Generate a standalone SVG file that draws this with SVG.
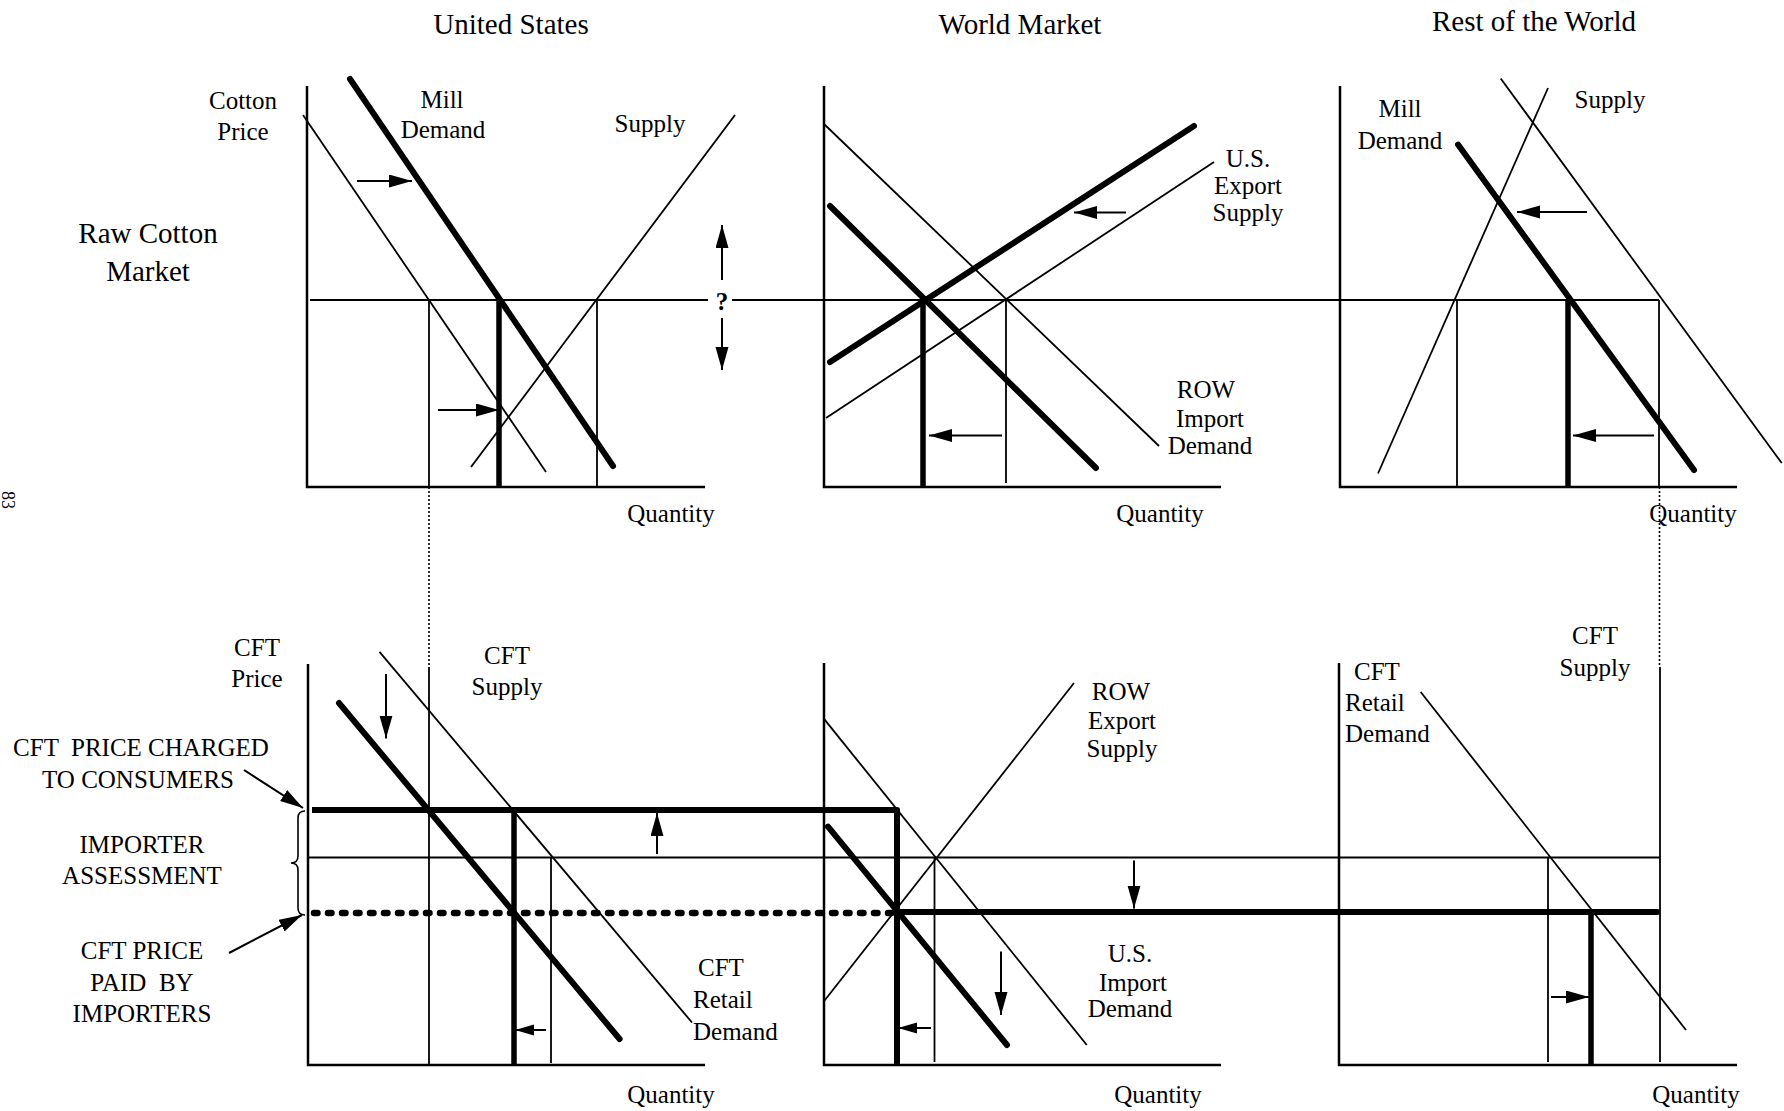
<svg xmlns="http://www.w3.org/2000/svg" width="1784" height="1111" viewBox="0 0 1784 1111">
<defs>
<style>
text{font-family:"Liberation Serif","Times New Roman",serif;fill:#000}
.t{font-size:29px;text-anchor:middle}
.l{font-size:25px;text-anchor:middle}
.s{font-size:25px;text-anchor:start}
.ax{stroke:#000;stroke-width:2.5;fill:none}
.th{stroke:#000;stroke-width:1.8;fill:none}
.tk{stroke:#000;stroke-width:6;fill:none;stroke-linecap:round}
.tv{stroke:#000;stroke-width:5.5;fill:none}
.dt{stroke:#000;stroke-width:1.6;fill:none;stroke-dasharray:2 2}
.ar{stroke:#000;stroke-width:2;fill:none;marker-end:url(#ah)}
.ar2{stroke:#000;stroke-width:2;fill:none;marker-end:url(#ah2)}
</style>
<marker id="ah" markerUnits="userSpaceOnUse" markerWidth="24" markerHeight="14" refX="23" refY="6.5" orient="auto"><path d="M0,0 L23,6.5 L0,13 z" fill="#000"/></marker>
<marker id="ah2" markerUnits="userSpaceOnUse" markerWidth="20" markerHeight="12" refX="19" refY="5.5" orient="auto"><path d="M0,0 L19,5.5 L0,11 z" fill="#000"/></marker>
</defs>
<rect width="1784" height="1111" fill="#fff"/>

<g id="page-number"><text transform="translate(2,491) rotate(90)" style="font-size:18px">83</text></g>

<g id="titles">
<text class="t" x="511" y="34">United States</text>
<text class="t" x="1020" y="34">World Market</text>
<text class="t" x="1534" y="31">Rest of the World</text>
<text class="t" x="148" y="243">Raw Cotton</text>
<text class="t" x="148" y="281">Market</text>
</g>

<g id="us-raw">
<path class="ax" d="M307,86 V487 H705"/>
<line class="th" x1="303" y1="115" x2="546" y2="472"/>
<line class="tk" x1="350" y1="79" x2="613" y2="466"/>
<line class="th" x1="471" y1="467" x2="735" y2="115"/>
<line class="th" x1="429" y1="300" x2="429" y2="487"/>
<line class="tv" x1="499" y1="300" x2="499" y2="487"/>
<line class="th" x1="597" y1="300" x2="597" y2="487"/>
<line class="ar" x1="357" y1="181" x2="412" y2="181"/>
<line class="ar" x1="438" y1="410" x2="499" y2="410"/>
<text class="l" x="243" y="109">Cotton</text>
<text class="l" x="243" y="140">Price</text>
<text class="l" x="442" y="108">Mill</text>
<text class="l" x="443" y="138">Demand</text>
<text class="l" x="650" y="132">Supply</text>
<text class="l" x="671" y="522">Quantity</text>
</g>

<g id="world-raw">
<path class="ax" d="M824,86 V487 H1221"/>
<line class="th" x1="824" y1="124" x2="1159" y2="446"/>
<line class="tk" x1="830" y1="206" x2="1096" y2="468"/>
<line class="tk" x1="830" y1="362" x2="1194" y2="126"/>
<line class="th" x1="826" y1="418" x2="1214" y2="162"/>
<line class="tv" x1="923" y1="300" x2="923" y2="487"/>
<line class="th" x1="1006" y1="300" x2="1006" y2="483"/>
<line class="ar" x1="1126" y1="212.5" x2="1074" y2="212.5"/>
<line class="ar" x1="1002" y1="435.5" x2="929" y2="435.5"/>
<text class="l" x="1248" y="167">U.S.</text>
<text class="l" x="1248" y="194">Export</text>
<text class="l" x="1248" y="221">Supply</text>
<text class="l" x="1206" y="398">ROW</text>
<text class="l" x="1210" y="427">Import</text>
<text class="l" x="1210" y="454">Demand</text>
<text class="l" x="1160" y="522">Quantity</text>
</g>

<g id="row-raw">
<path class="ax" d="M1340,86 V487 H1737"/>
<line class="th" x1="1378" y1="473.5" x2="1548" y2="88"/>
<line class="th" x1="1500.7" y1="78.5" x2="1781.7" y2="463"/>
<line class="tk" x1="1458" y1="144.6" x2="1694" y2="470"/>
<line class="th" x1="1457" y1="300" x2="1457" y2="487"/>
<line class="tv" x1="1568" y1="300" x2="1568" y2="487"/>
<line class="th" x1="1659" y1="300" x2="1659" y2="487"/>
<line class="ar" x1="1587" y1="212" x2="1517" y2="212"/>
<line class="ar" x1="1654" y1="435.5" x2="1573" y2="435.5"/>
<text class="l" x="1400" y="117">Mill</text>
<text class="l" x="1400" y="149">Demand</text>
<text class="l" x="1610" y="108">Supply</text>
<text class="l" x="1693" y="522">Quantity</text>
</g>

<g id="raw-price-line">
<path class="th" d="M310,300 H708 M732,300 H1659"/>
<line class="ar" x1="722" y1="280" x2="722" y2="225"/>
<line class="ar" x1="722" y1="318" x2="722" y2="370"/>
<text class="l" x="722" y="310" style="font-weight:bold">?</text>
</g>

<g id="connectors">
<line class="dt" x1="429" y1="487" x2="429" y2="667"/>
<line class="dt" x1="1659.5" y1="487" x2="1659.5" y2="667"/>
</g>

<g id="us-cft">
<path class="ax" d="M308,664 V1065 H705"/>
<line class="th" x1="429" y1="667" x2="429" y2="1065"/>
<line class="th" x1="379.5" y1="651.8" x2="692" y2="1022.5"/>
<line class="tk" x1="339" y1="703" x2="619.6" y2="1039"/>
<line class="tv" x1="514" y1="810" x2="514" y2="1065"/>
<line class="th" x1="551" y1="857.5" x2="551" y2="1063"/>
<line class="ar2" x1="546" y1="1030" x2="515" y2="1030"/>
<line class="ar" x1="386" y1="674" x2="386" y2="738.5"/>
<line class="ar" x1="657" y1="854" x2="657" y2="813"/>
<text class="l" x="257" y="656">CFT</text>
<text class="l" x="257" y="687">Price</text>
<text class="l" x="507" y="664">CFT</text>
<text class="l" x="507" y="695">Supply</text>
<text class="s" x="698" y="976">CFT</text>
<text class="s" x="693" y="1008">Retail</text>
<text class="s" x="693" y="1040">Demand</text>
<text class="l" x="671" y="1103">Quantity</text>
</g>

<g id="cft-price-lines">
<line class="th" x1="309" y1="857.5" x2="1660" y2="857.5"/>
<path class="tk" d="M312,810 H897 V1065" style="stroke-linecap:butt;stroke-linejoin:round"/>
<line x1="314" y1="913" x2="892" y2="913" style="stroke:#000;stroke-width:6.5;stroke-linecap:round;stroke-dasharray:3.5 10.5"/>
<line class="tk" x1="897" y1="912" x2="1657" y2="912"/>
</g>

<g id="annotations">
<text class="l" x="141" y="756" xml:space="preserve">CFT  PRICE CHARGED</text>
<text class="l" x="138" y="788">TO CONSUMERS</text>
<line class="ar" x1="244" y1="770" x2="303" y2="808"/>
<text class="l" x="142" y="853">IMPORTER</text>
<text class="l" x="142" y="884">ASSESSMENT</text>
<text class="l" x="142" y="959">CFT PRICE</text>
<text class="l" x="142" y="991" xml:space="preserve">PAID  BY</text>
<text class="l" x="142" y="1022">IMPORTERS</text>
<line class="ar" x1="229" y1="953" x2="302" y2="915"/>
<path d="M305,811 Q298,811 298,818 V856 Q298,863 291,863 Q298,863 298,870 V908 Q298,915 305,915" style="stroke:#000;stroke-width:1.6;fill:none"/>
</g>

<g id="world-cft">
<path class="ax" d="M824,663 V1065 H1221"/>
<line class="th" x1="823.6" y1="1001.8" x2="1074" y2="683"/>
<line class="th" x1="823.6" y1="718.4" x2="1086.8" y2="1045"/>
<line class="tk" x1="828" y1="826.6" x2="1007" y2="1045"/>
<line class="th" x1="934.5" y1="857.5" x2="934.5" y2="1062"/>
<line class="ar" x1="1134" y1="860.5" x2="1134" y2="908.5"/>
<line class="ar" x1="1001" y1="951.5" x2="1001" y2="1015"/>
<line class="ar2" x1="931" y1="1028" x2="898" y2="1028"/>
<text class="l" x="1121" y="700">ROW</text>
<text class="l" x="1122" y="729">Export</text>
<text class="l" x="1122" y="757">Supply</text>
<text class="l" x="1130" y="962">U.S.</text>
<text class="l" x="1133" y="991">Import</text>
<text class="l" x="1130" y="1017">Demand</text>
<text class="l" x="1158" y="1103">Quantity</text>
</g>

<g id="row-cft">
<path class="ax" d="M1339,663 V1065 H1737"/>
<line class="th" x1="1660" y1="667" x2="1660" y2="1062"/>
<line class="th" x1="1420.7" y1="692" x2="1686" y2="1030"/>
<line class="th" x1="1548" y1="857.5" x2="1548" y2="1062"/>
<line class="tv" x1="1591" y1="912" x2="1591" y2="1065"/>
<line class="ar" x1="1551" y1="997" x2="1589" y2="997"/>
<text class="s" x="1354" y="680">CFT</text>
<text class="s" x="1345" y="711">Retail</text>
<text class="s" x="1345" y="742">Demand</text>
<text class="l" x="1595" y="644">CFT</text>
<text class="l" x="1595" y="676">Supply</text>
<text class="l" x="1696" y="1103">Quantity</text>
</g>
</svg>
